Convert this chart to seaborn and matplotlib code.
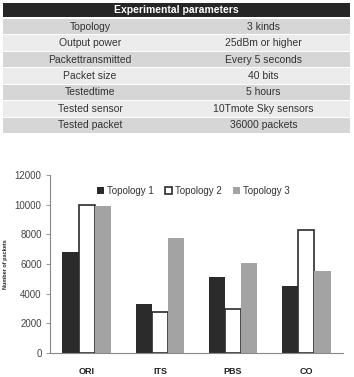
import matplotlib
matplotlib.use("Agg")
import matplotlib.pyplot as plt
import seaborn as sns
import pandas as pd
from matplotlib.patches import Rectangle

# ---- data ----
methods = ["ORI", "ITS", "PBS", "CO"]
topologies = ["Topology 1", "Topology 2", "Topology 3"]
topo1 = [6800, 3300, 5150, 4550]
topo2 = [10000, 2750, 2950, 8300]
topo3 = [9900, 7750, 6100, 5500]
y_ticks = [0, 2000, 4000, 6000, 8000, 10000, 12000]

param_names = ["Topology", "Output power", "Packettransmitted", "Packet size",
               "Testedtime", "Tested sensor", "Tested packet"]
param_values = ["3 kinds", "25dBm or higher", "Every 5 seconds", "40 bits",
                "5 hours", "10Tmote Sky sensors", "36000 packets"]
table_title = "Experimental parameters"

sns.set_theme(style="white")
plt.rcParams["font.family"] = ["Liberation Sans", "DejaVu Sans"]

W, H = 354, 377
fig = plt.figure(figsize=(W / 100, H / 100), dpi=100)

def fx(px):
    return px / W

def fy(py):
    return 1 - py / H

# ---- table ----
tx0, tx1, tsplit = 3, 350, 177
ty0, thead = 3, 17
row_h = (134 - 19) / len(param_names)
fig.patches.append(Rectangle((fx(tx0), fy(thead)), fx(tx1 - tx0), (thead - ty0) / H,
                             transform=fig.transFigure, facecolor="#262626",
                             edgecolor="none"))
fig.text(fx((tx0 + tx1) / 2), fy((ty0 + thead) / 2), table_title, color="white",
         fontsize=7.5, fontweight="bold", ha="center", va="center")
for i, (n, v) in enumerate(zip(param_names, param_values)):
    top = 19 + i * row_h
    col = "#d6d6d6" if i % 2 == 0 else "#ececec"
    for a, b in [(tx0, tsplit - 0.5), (tsplit + 0.5, tx1)]:
        fig.patches.append(Rectangle((fx(a), fy(top + row_h - 1)), fx(b - a),
                                     (row_h - 1) / H, transform=fig.transFigure,
                                     facecolor=col, edgecolor="none"))
    cy = fy(top + (row_h - 1) / 2)
    fig.text(fx((tx0 + tsplit) / 2), cy, n, fontsize=7.5, color="#333333",
             ha="center", va="center")
    fig.text(fx((tsplit + tx1) / 2), cy, v, fontsize=7.5, color="#333333",
             ha="center", va="center")

# ---- bar chart ----
ax = fig.add_axes([fx(50), fy(353), fx(343 - 50), (353 - 175) / H])
df = pd.DataFrame({
    "method": methods * 3,
    "topology": [t for t in topologies for _ in methods],
    "packets": topo1 + topo2 + topo3,
})
palette = {"Topology 1": "#2b2b2b", "Topology 2": "#ffffff", "Topology 3": "#a3a3a3"}
sns.barplot(data=df, x="method", y="packets", hue="topology", order=methods,
            hue_order=topologies, palette=palette, width=0.66, ax=ax,
            edgecolor="none", linewidth=0, saturation=1)
for patch, t in zip(ax.patches, [t for t in topologies for _ in methods]):
    if t == "Topology 2":
        patch.set_edgecolor("#2b2b2b")
        patch.set_linewidth(1.2)

ax.set_ylim(0, 12000)
ax.set_xlim(-0.5, 3.5)
ax.set_yticks(y_ticks)
ax.set_yticklabels([str(v) for v in y_ticks], fontsize=7, color="#444444")
ax.set_xticks(range(len(methods)))
ax.set_xticklabels(methods, fontsize=6.5, fontweight="bold", color="#222222")
ax.set_xlabel("")
ax.set_ylabel("Number of packets", fontsize=4, fontweight="bold")
ax.yaxis.set_label_coords(-42 / 293, 0.5)
for s in ["top", "right"]:
    ax.spines[s].set_visible(False)
for s in ["left", "bottom"]:
    ax.spines[s].set_color("#888888")
    ax.spines[s].set_linewidth(0.8)
ax.tick_params(axis="y", left=True, length=3, width=0.6, color="#888888", pad=3)
ax.tick_params(axis="x", bottom=False, length=0, pad=10)
ax.grid(False)
ax.set_facecolor("white")

leg = ax.legend(loc="upper center", bbox_to_anchor=(0.49, 0.96), ncol=3, frameon=False,
                fontsize=7, handlelength=0.7, handleheight=0.7, handletextpad=0.3,
                columnspacing=1.2, borderaxespad=0)
for t in leg.get_texts():
    t.set_color("#333333")
for h, t in zip(leg.legend_handles, topologies):
    if t == "Topology 2":
        h.set_edgecolor("#2b2b2b")
        h.set_linewidth(1.2)
    else:
        h.set_edgecolor("none")

fig.savefig("out.png", dpi=100, facecolor="white")
